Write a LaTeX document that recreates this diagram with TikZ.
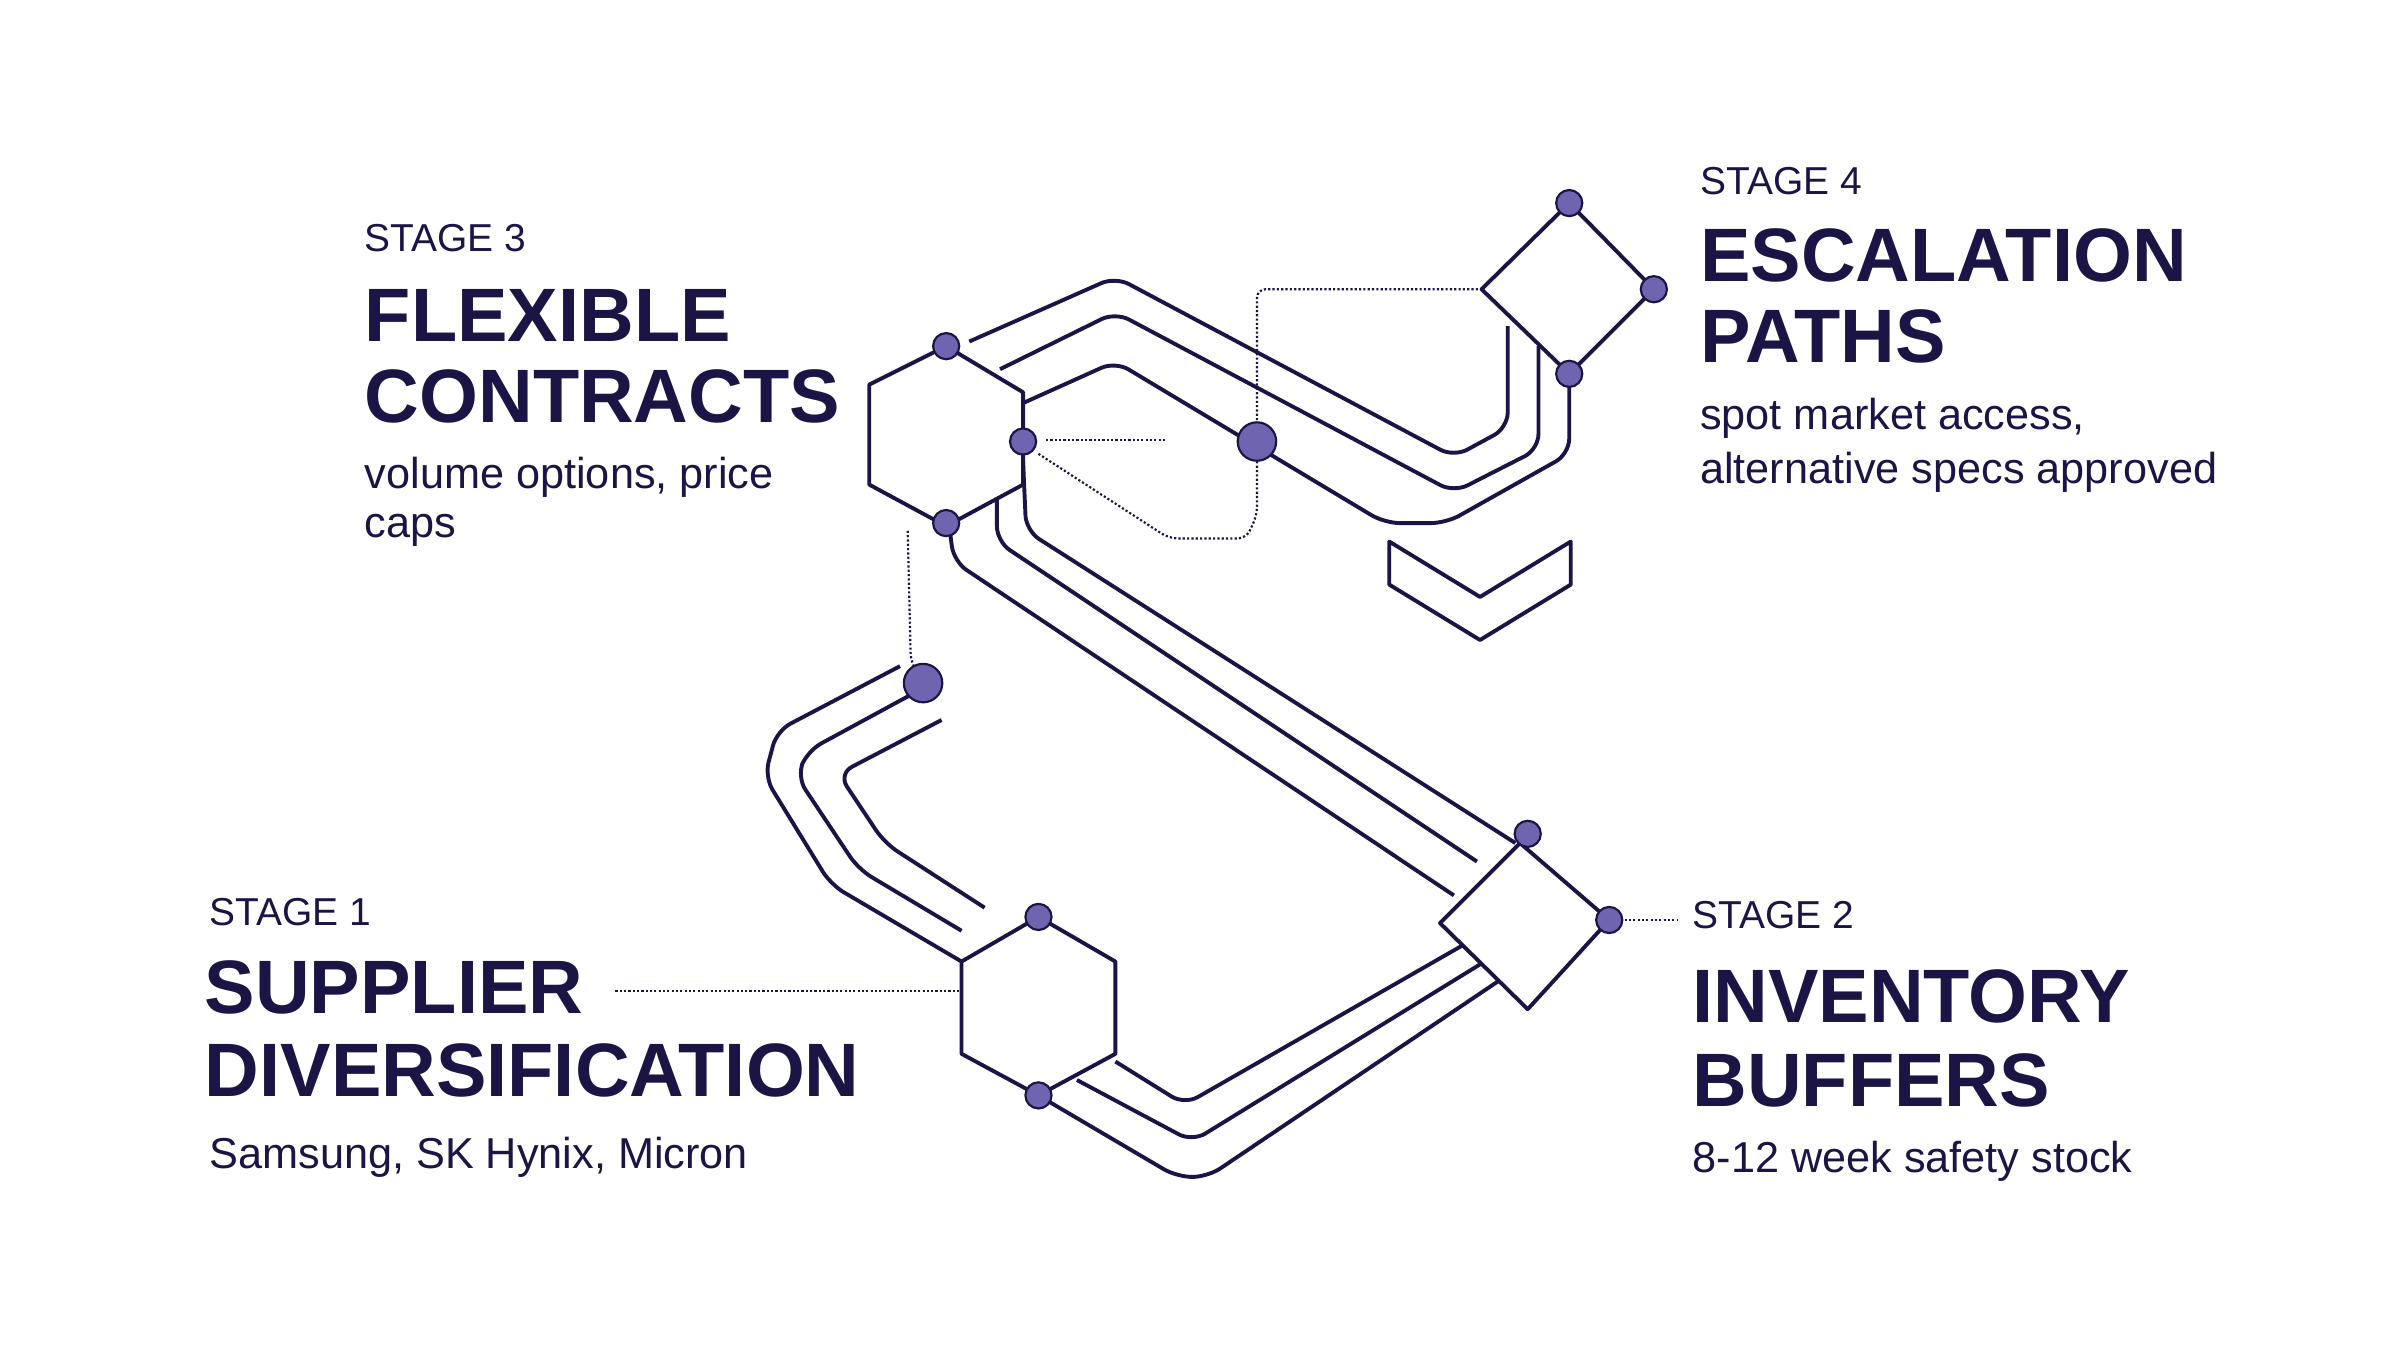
\documentclass[tikz,border=0pt]{standalone}
\usepackage{fontspec}
\setmainfont{Liberation Sans}
\definecolor{ink}{HTML}{1B1545}
\definecolor{dotc}{HTML}{6F64B0}
\begin{document}
\begin{tikzpicture}[x=0.5mm,y=-0.5mm,
  ln/.style={draw=ink,line width=3.6pt,rounded corners=14,line join=round},
  shp/.style={draw=ink,line width=3.6pt,fill=white,line join=round},
  dt/.style={draw=ink,line width=2pt,dotted,rounded corners=8},
  sdot/.style={circle,fill=dotc,draw=ink,line width=2pt,minimum size=8.5mm,inner sep=0pt},
  bdot/.style={circle,fill=dotc,draw=ink,line width=2pt,minimum size=12.5mm,inner sep=0pt},
  stg/.style={anchor=west,text=ink,inner sep=0pt,font=\fontsize{36}{40}\selectfont},
  ttl/.style={anchor=west,text=ink,inner sep=0pt,font=\fontsize{70}{76}\selectfont\bfseries},
  bdy/.style={anchor=west,text=ink,inner sep=0pt,font=\fontsize{40}{44}\selectfont}]
\useasboundingbox (0,0) rectangle (1560,890);
% dotted connectors
\draw[dt] (400,644) -- (625,644);
\draw[dt] (1056,598) -- (1090,598);
\draw[dt] (590,345) -- (592,430) -- (600,444);
\draw[dt] (680,286) -- (758,286);
\draw[dt] (675,295) -- (760,350) -- (810,350) -- (817,335) -- (817,188) -- (963,188);
% top band
\draw[ln] (630,222) -- (725,180) -- (945,297) -- (980,278) -- (980,212);
\draw[ln] (650,240) -- (725,203) -- (945,320) -- (1000,292) -- (1000,225);
\draw[ln] (665,262) -- (725,235) -- (900,340) -- (940,340) -- (1020,295) -- (1020,243);
% middle band
\draw[ln] (617,342) -- (620,365) -- (945,582);
\draw[ln] (648,318) -- (648,352) -- (960,560);
\draw[ln] (665,300) -- (667,345) -- (985,548);
% bottom band
\draw[ln] (955,612) -- (770,718) -- (725,690);
\draw[ln] (965,625) -- (775,742) -- (700,702);
\draw[ln] (975,637) -- (785,765) -- (765,765) -- (680,715);
% left loop
\draw[ln] (585,433) -- (505,475) -- (497,505) -- (540,575) -- (625,625);
\draw[ln] (595,450) -- (525,488) -- (518,505) -- (558,565) -- (625,605);
\draw[ln] (612,468) -- (545,503) -- (575,548) -- (640,590);
% shapes
\draw[shp] (615,225) -- (665,255) -- (665,315) -- (615,342) -- (565,315) -- (565,250) -- cycle;
\draw[shp] (675,596) -- (725,625) -- (725,685) -- (675,712) -- (625,685) -- (625,625) -- cycle;
\draw[shp] (988,548) -- (1046,598) -- (993,656) -- (936,600) -- cycle;
\draw[shp] (1020,132) -- (1075,188) -- (1020,243) -- (963,188) -- cycle;
\draw[shp] (903,352) -- (903,380) -- (962,416) -- (1021,380) -- (1021,352) -- (962,388) -- cycle;
% dots
\foreach \n/\p in {d1/{(615,225)},d2/{(665,287)},d3/{(615,340)},d4/{(675,596)},d5/{(675,712)},d6/{(993,542)},d7/{(1046,598)},d8/{(1020,132)},d9/{(1075,188)},d10/{(1020,243)}}
  \node[sdot] (\n) at \p {};
\node[bdot] (b1) at (600,444) {};
\node[bdot] (b2) at (817,287) {};
% texts
\node[stg] (s3) at (237,155) {STAGE 3};
\node[ttl] (t3a) at (237,205) {FLEXIBLE};
\node[ttl] (t3b) at (237,258) {CONTRACTS};
\node[bdy] (b3a) at (237,310) {volume options, price};
\node[bdy] (b3b) at (237,345) {caps};
\node[stg] (s4) at (1105,118) {STAGE 4};
\node[ttl] (t4a) at (1105,166) {ESCALATION};
\node[ttl] (t4b) at (1105,219) {PATHS};
\node[bdy] (b4a) at (1105,272) {spot market access,};
\node[bdy] (b4b) at (1105,307) {alternative specs approved};
\node[stg] (s1) at (136,593) {STAGE 1};
\node[ttl] (t1a) at (133,642) {SUPPLIER};
\node[ttl] (t1b) at (133,696) {DIVERSIFICATION};
\node[bdy] (b1a) at (136,752) {Samsung, SK Hynix, Micron};
\node[stg] (s2) at (1100,595) {STAGE 2};
\node[ttl] (t2a) at (1100,648) {INVENTORY};
\node[ttl] (t2b) at (1100,702) {BUFFERS};
\node[bdy] (b2a) at (1100,755) {8-12 week safety stock};
\end{tikzpicture}
\end{document}
